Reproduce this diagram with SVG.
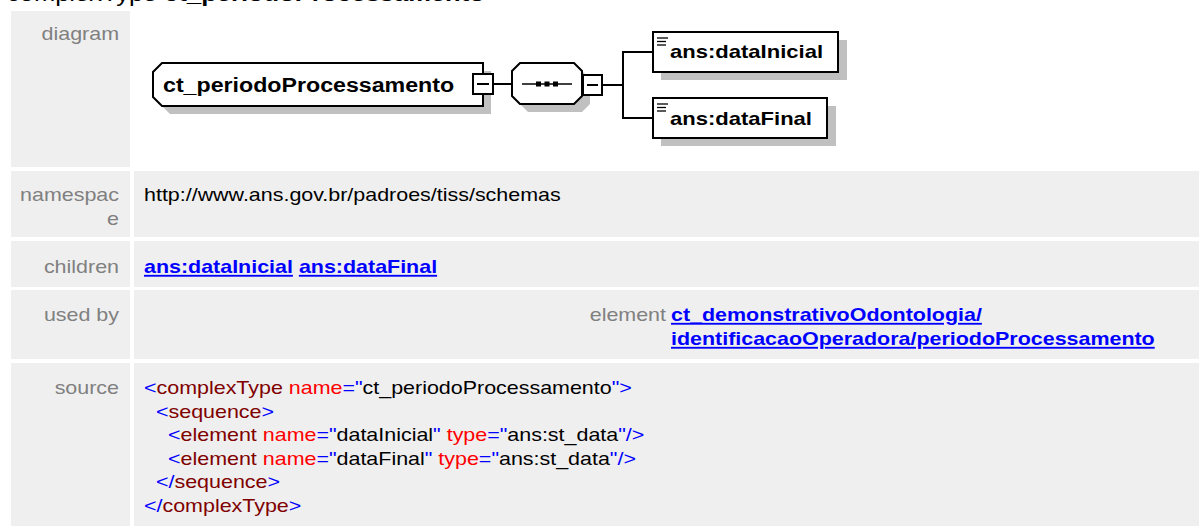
<svg xmlns="http://www.w3.org/2000/svg" width="1199" height="526" viewBox="0 0 1199 526">
<style>
  text { font-family: "Liberation Sans", Arial, Helvetica, sans-serif; }
  .cell { fill: #efefef; }
  .lbl { font-size: 18.5px; fill: #808080; text-anchor: end; }
  .val { font-size: 18.5px; fill: #000000; }
  .lnk { font-size: 18.5px; fill: #0000ff; font-weight: bold; }
  .u { text-decoration: underline; }
  .src { font-size: 18.5px; fill: #000000; }
  .b { fill: #0000ff; }
  .t { fill: #800000; }
  .a { fill: #ff0000; }
  .box { fill: #ffffff; stroke: #000000; stroke-width: 2; }
  .shadow { fill: #c0c0c0; stroke: none; }
  .conn { fill: none; stroke: #000000; stroke-width: 2; }
  .nlbl { font-weight: bold; fill: #000000; }
  .icon { stroke: #000000; stroke-width: 1.3; }
</style>

<!-- title (cut off at top) -->
<text transform="translate(7,1) scale(1.16,1)" style="font-size:22px" fill="#000">complexType <tspan font-weight="bold">ct_periodoProcessamento</tspan></text>

<!-- table cells -->
<g id="table">
  <rect class="cell" x="11" y="11" width="119" height="156"/>
  <rect class="cell" x="11" y="171" width="119" height="66"/>
  <rect class="cell" x="134" y="171" width="1065" height="66"/>
  <rect class="cell" x="11" y="241" width="119" height="46"/>
  <rect class="cell" x="134" y="241" width="1065" height="46"/>
  <rect class="cell" x="11" y="290" width="119" height="69"/>
  <rect class="cell" x="134" y="290" width="1065" height="69"/>
  <rect class="cell" x="11" y="363" width="119" height="163"/>
  <rect class="cell" x="134" y="363" width="1065" height="163"/>
</g>

<!-- labels -->
<text class="lbl" transform="translate(119,40) scale(1.16,1)">diagram</text>
<text class="lbl" transform="translate(119,201) scale(1.16,1)">namespac</text>
<text class="lbl" transform="translate(119,225) scale(1.16,1)">e</text>
<text class="lbl" transform="translate(119,273) scale(1.16,1)">children</text>
<text class="lbl" transform="translate(119,321) scale(1.16,1)">used by</text>
<text class="lbl" transform="translate(119,394) scale(1.16,1)">source</text>

<!-- values -->
<text class="val" transform="translate(144,201) scale(1.16,1)">http://www.ans.gov.br/padroes/tiss/schemas</text>
<text class="lnk" transform="translate(144,273) scale(1.16,1)"><tspan class="u">ans:dataInicial</tspan> <tspan class="u">ans:dataFinal</tspan></text>
<text class="lbl" transform="translate(666,321) scale(1.16,1)">element</text>
<text class="lnk" transform="translate(671,321) scale(1.16,1)"><tspan class="u">ct_demonstrativoOdontologia/</tspan></text>
<text class="lnk" transform="translate(671,345) scale(1.16,1)"><tspan class="u">identificacaoOperadora/periodoProcessamento</tspan></text>

<!-- source -->
<text class="src" transform="translate(144,394) scale(1.16,1)"><tspan class="b">&lt;</tspan><tspan class="t">complexType</tspan> <tspan class="a">name</tspan><tspan class="b">="</tspan>ct_periodoProcessamento<tspan class="b">"&gt;</tspan></text>
<text class="src" transform="translate(156,417.5) scale(1.16,1)"><tspan class="b">&lt;</tspan><tspan class="t">sequence</tspan><tspan class="b">&gt;</tspan></text>
<text class="src" transform="translate(168,441) scale(1.16,1)"><tspan class="b">&lt;</tspan><tspan class="t">element</tspan> <tspan class="a">name</tspan><tspan class="b">="</tspan>dataInicial<tspan class="b">"</tspan> <tspan class="a">type</tspan><tspan class="b">="</tspan>ans:st_data<tspan class="b">"/&gt;</tspan></text>
<text class="src" transform="translate(168,464.5) scale(1.16,1)"><tspan class="b">&lt;</tspan><tspan class="t">element</tspan> <tspan class="a">name</tspan><tspan class="b">="</tspan>dataFinal<tspan class="b">"</tspan> <tspan class="a">type</tspan><tspan class="b">="</tspan>ans:st_data<tspan class="b">"/&gt;</tspan></text>
<text class="src" transform="translate(156,488) scale(1.16,1)"><tspan class="b">&lt;/</tspan><tspan class="t">sequence</tspan><tspan class="b">&gt;</tspan></text>
<text class="src" transform="translate(144,511.5) scale(1.16,1)"><tspan class="b">&lt;/</tspan><tspan class="t">complexType</tspan><tspan class="b">&gt;</tspan></text>

<!-- connectors -->
<g id="connectors">
  <line class="conn" x1="493" y1="84" x2="512" y2="84"/>
  <line class="conn" x1="602" y1="85" x2="623" y2="85"/>
  <polyline class="conn" points="653,52 623,52 623,118 653,118"/>
</g>

<!-- main complex type node -->
<g id="node-ct_periodoProcessamento">
  <path class="shadow" d="M170,71 H491 V114 H170 L161,105 V80 Z"/>
  <path class="box" d="M162,63 H483 V106 H162 L153,97 V72 Z"/>
  <text class="nlbl" transform="translate(163,92) scale(1.16,1)" style="font-size:20px">ct_periodoProcessamento</text>
  <rect class="box" x="473" y="74" width="20" height="20"/>
  <line class="conn" x1="477" y1="84" x2="489" y2="84"/>
</g>

<!-- sequence node -->
<g id="node-sequence">
  <path class="shadow" d="M528,71 H582 L590,79 V104 L582,112 H528 L520,104 V79 Z"/>
  <path class="box" d="M520,63 H574 L582,71 V96 L574,104 H520 L512,96 V71 Z"/>
  <line x1="522" y1="84" x2="572" y2="84" stroke="#000" stroke-width="1.5"/>
  <rect x="536" y="81.5" width="5" height="5" fill="#000"/>
  <rect x="544.5" y="81.5" width="5" height="5" fill="#000"/>
  <rect x="553" y="81.5" width="5" height="5" fill="#000"/>
  <rect class="box" x="583" y="75" width="19" height="20"/>
  <line class="conn" x1="587" y1="85" x2="598" y2="85"/>
</g>

<!-- element dataInicial -->
<g id="node-dataInicial">
  <rect class="shadow" x="661" y="40" width="186" height="40"/>
  <rect class="box" x="653" y="32" width="185" height="40"/>
  <line class="icon" x1="657" y1="38" x2="668" y2="38"/>
  <line class="icon" x1="657" y1="41.5" x2="666" y2="41.5"/>
  <line class="icon" x1="657" y1="45" x2="666" y2="45"/>
  <text class="nlbl" transform="translate(670,58) scale(1.16,1)" style="font-size:19px">ans:dataInicial</text>
</g>

<!-- element dataFinal -->
<g id="node-dataFinal">
  <rect class="shadow" x="661" y="106" width="175" height="40"/>
  <rect class="box" x="653" y="98" width="174" height="40"/>
  <line class="icon" x1="657" y1="104" x2="668" y2="104"/>
  <line class="icon" x1="657" y1="107.5" x2="666" y2="107.5"/>
  <line class="icon" x1="657" y1="111" x2="666" y2="111"/>
  <text class="nlbl" transform="translate(670,125) scale(1.16,1)" style="font-size:19px">ans:dataFinal</text>
</g>
</svg>
